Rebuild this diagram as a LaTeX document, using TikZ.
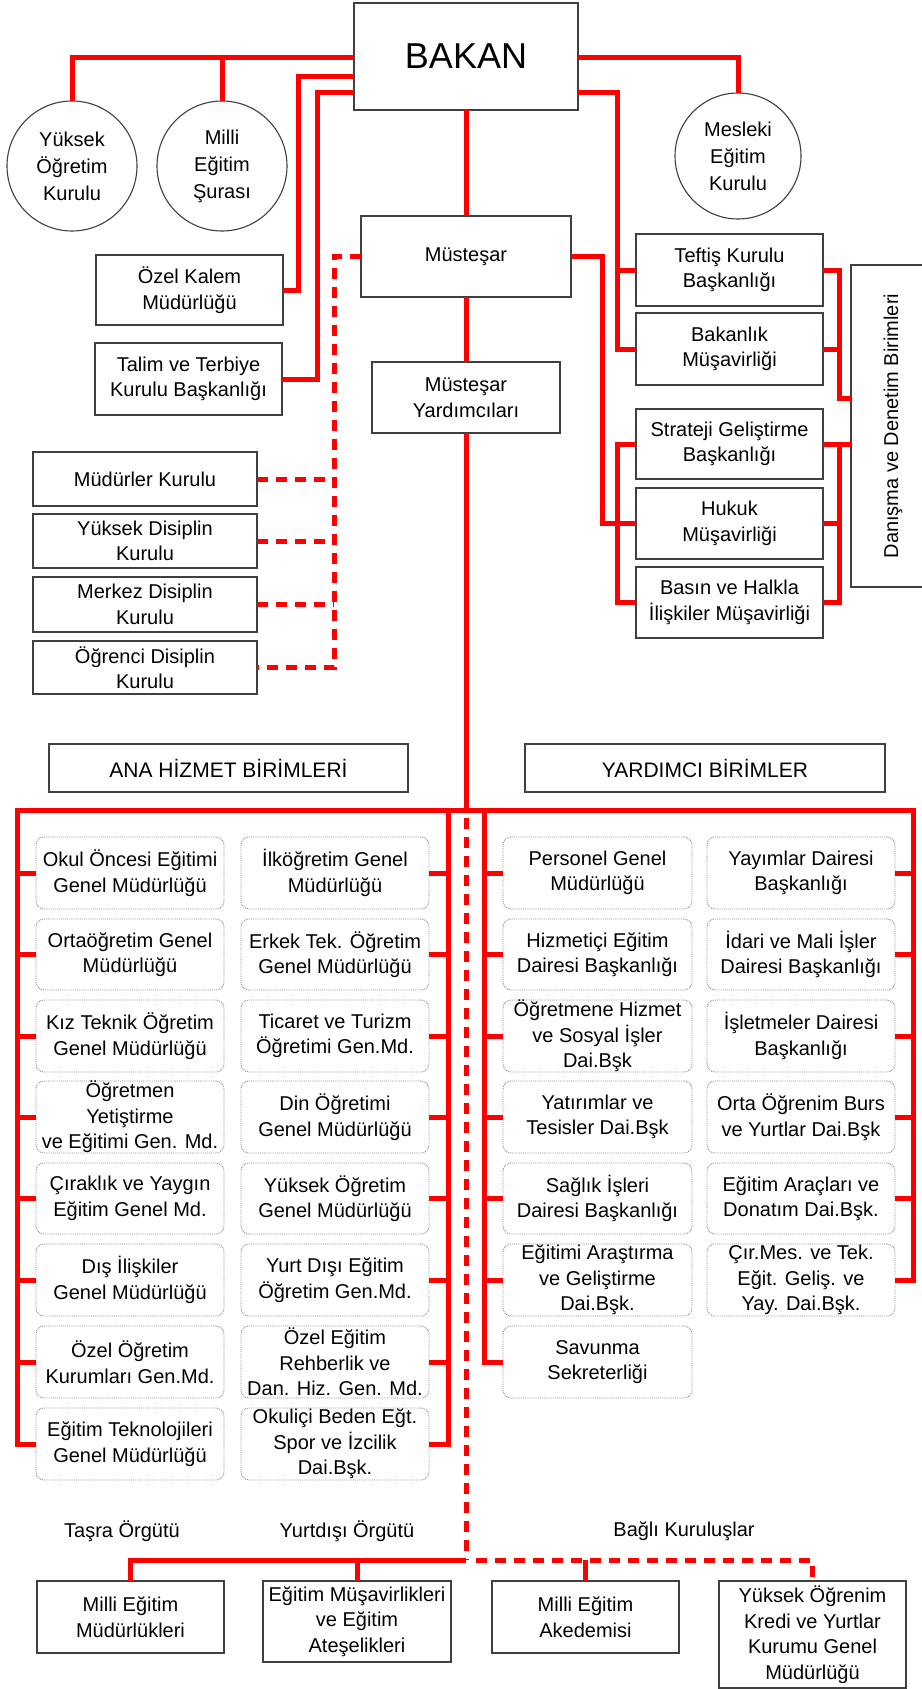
\documentclass[tikz,border=0pt]{standalone}
\usepackage{fontspec}
\setmainfont{Liberation Sans}
\usetikzlibrary{calc}
\tikzset{
  redl/.style={draw=red, line width=5pt},
  redd/.style={draw=red, line width=5pt, dash pattern=on 11pt off 8pt},
  sqbox/.style={draw=black!75, line width=1.1pt, fill=white, align=center, inner sep=0pt, outer sep=0pt, font=\fontsize{20}{25.5}\selectfont},
  rbox/.style={draw=black!45, densely dotted, line width=0.9pt, rounded corners=8pt, fill=white, align=center, inner sep=0pt, outer sep=0pt, font=\fontsize{20}{25.5}\selectfont},
  circ/.style={draw=black!75, line width=1.1pt, circle, minimum size=130pt, align=center, inner sep=0pt, outer sep=0pt, font=\fontsize{20}{27}\selectfont},
  lbl/.style={font=\fontsize{20}{25}\selectfont, inner sep=0pt}
}
% \bx{name}{x1}{y1}{x2}{y2}{style}{text}
\newcommand\bx[7]{\node[#6, minimum width={(#4-#2)*1pt}, minimum height={(#5-#3)*1pt}] (#1) at ({(#2+#4)/2},{(#3+#5)/2}) {#7};}
\begin{document}
\begin{tikzpicture}[x=1pt,y=-1pt]
\useasboundingbox (0,0) rectangle (921,1689);
\fill[white] (0,0) rectangle (921,1689);

% ---------- top ----------
\bx{bakan}{354}{3}{578}{110}{sqbox, font=\fontsize{36}{40}\selectfont}{BAKAN}
\node[circ] (c1) at (72,166) {Yüksek\\Öğretim\\Kurulu};
\node[circ] (c2) at (222,166) {Milli\\Eğitim\\Şurası};
\node[circ, minimum size=126pt] (c3) at (738,156) {Mesleki\\Eğitim\\Kurulu};
\bx{ozel}{96}{255}{283}{325}{sqbox}{Özel Kalem\\Müdürlüğü}
\bx{talim}{95}{343}{282}{415}{sqbox}{Talim ve Terbiye\\Kurulu Başkanlığı}
\bx{must}{361}{216}{571}{297}{sqbox}{Müsteşar}
\bx{yard}{372}{362}{560}{433}{sqbox}{Müsteşar\\Yardımcıları}

\bx{teftis}{636}{234}{823}{306}{sqbox}{Teftiş Kurulu\\Başkanlığı}
\bx{bakanlik}{636}{313}{823}{385}{sqbox}{Bakanlık\\Müşavirliği}
\bx{strateji}{636}{409}{823}{479}{sqbox}{Strateji Geliştirme\\Başkanlığı}
\bx{hukuk}{636}{488}{823}{559}{sqbox}{Hukuk\\Müşavirliği}
\bx{basin}{636}{567}{823}{638}{sqbox}{Basın ve Halkla\\İlişkiler Müşavirliği}
\bx{danisma}{851}{265}{935}{587}{sqbox}{}
\node[lbl, rotate=90] (danismat) at (893,426) {Danışma ve Denetim Birimleri};

\bx{mudurler}{33}{452}{257}{506}{sqbox}{Müdürler Kurulu}
\bx{yuksekd}{33}{514}{257}{568}{sqbox}{Yüksek Disiplin\\Kurulu}
\bx{merkez}{33}{577}{257}{632}{sqbox}{Merkez Disiplin\\Kurulu}
\bx{ogrenci}{33}{641}{257}{694}{sqbox}{Öğrenci Disiplin\\Kurulu}

\bx{anah}{49}{744}{408}{792}{sqbox, font=\fontsize{21}{25}\selectfont}{ANA HİZMET BİRİMLERİ}
\bx{yardh}{525}{744}{885}{792}{sqbox, font=\fontsize{21}{25}\selectfont}{YARDIMCI BİRİMLER}

% top connectors
\draw[redl] (bakan.west |- 0,57) -| (c1.north);
\draw[redl] (c2.north) -- (c2.north |- 0,57);
\draw[redl] (bakan.west |- 0,76) -| ($(ozel.east)+(15,0)$) -- (ozel.east);
\draw[redl] (bakan.west |- 0,92) -| ($(talim.east)+(35,0)$) -- (talim.east);
\draw[redl] (bakan.east |- 0,57) -| (c3.north);
\draw[redl] (bakan.east |- 0,92) -| ($(bakanlik.west)+(-19,0)$) -- (bakanlik.west);
\draw[redl] (teftis.west) -- ++(-19,0);
\draw[redl] (bakan.south) -- (must.north);
\draw[redl] (must.south) -- (yard.north);
\coordinate (hub) at (466,810);
\draw[redl] (yard.south) -- (hub);

% Musteşar dashed
\draw[redd] (must.west) -| ($(ogrenci.east)+(77,0)$) -- (ogrenci.east);
\draw[redd] (mudurler.east) -- ++(77,0);
\draw[redd] (yuksekd.east) -- ++(77,0);
\draw[redd] (merkez.east) -- ++(77,0);

% Musteşar right
\draw[redl] (must.east) -| ($(hukuk.west)+(-34,0)$) -- (hukuk.west);
\draw[redl] (strateji.west) -- ++(-19,0) |- (basin.west);

% right to Danışma
\draw[redl] (teftis.east) -- ++(16,0) |- (danisma.west |- 0,398);
\draw[redl] (bakanlik.east) -- ++(16,0);
\draw[redl] (strateji.east) -- (danisma.west |- strateji.east);
\draw[redl] (basin.east) -- ++(16,0) -- ($(strateji.east)+(16,0)$);
\draw[redl] (hukuk.east) -- ++(16,0);

% ---------- main units ----------
\bx{a1}{36}{837}{224}{909}{rbox}{Okul Öncesi Eğitimi\\Genel Müdürlüğü}
\bx{a2}{36}{919}{224}{990}{rbox}{Ortaöğretim Genel\\Müdürlüğü}
\bx{a3}{36}{1000}{224}{1072}{rbox}{Kız Teknik Öğretim\\Genel Müdürlüğü}
\bx{a4}{36}{1081}{224}{1153}{rbox}{Öğretmen\\Yetiştirme\\ve Eğitimi Gen. Md.}
\bx{a5}{36}{1163}{224}{1234}{rbox}{Çıraklık ve Yaygın\\Eğitim Genel Md.}
\bx{a6}{36}{1244}{224}{1316}{rbox}{Dış İlişkiler\\Genel Müdürlüğü}
\bx{a7}{36}{1326}{224}{1398}{rbox}{Özel Öğretim\\Kurumları Gen.Md.}
\bx{a8}{36}{1408}{224}{1480}{rbox}{Eğitim Teknolojileri\\Genel Müdürlüğü}

\bx{b1}{241}{837}{429}{909}{rbox}{İlköğretim Genel\\Müdürlüğü}
\bx{b2}{241}{919}{429}{990}{rbox}{Erkek Tek. Öğretim\\Genel Müdürlüğü}
\bx{b3}{241}{1000}{429}{1072}{rbox}{Ticaret ve Turizm\\Öğretimi Gen.Md.}
\bx{b4}{241}{1081}{429}{1153}{rbox}{Din Öğretimi\\Genel Müdürlüğü}
\bx{b5}{241}{1163}{429}{1234}{rbox}{Yüksek Öğretim\\Genel Müdürlüğü}
\bx{b6}{241}{1244}{429}{1316}{rbox}{Yurt Dışı Eğitim\\Öğretim Gen.Md.}
\bx{b7}{241}{1326}{429}{1398}{rbox}{Özel Eğitim\\Rehberlik ve\\Dan. Hiz. Gen. Md.}
\bx{b8}{241}{1408}{429}{1480}{rbox}{Okuliçi Beden Eğt.\\Spor ve İzcilik\\Dai.Bşk.}

\bx{y1}{503}{837}{692}{909}{rbox}{Personel Genel\\Müdürlüğü}
\bx{y2}{503}{919}{692}{990}{rbox}{Hizmetiçi Eğitim\\Dairesi Başkanlığı}
\bx{y3}{503}{1000}{692}{1072}{rbox}{Öğretmene Hizmet\\ve Sosyal İşler\\Dai.Bşk}
\bx{y4}{503}{1081}{692}{1153}{rbox}{Yatırımlar ve\\Tesisler Dai.Bşk}
\bx{y5}{503}{1163}{692}{1234}{rbox}{Sağlık İşleri\\Dairesi Başkanlığı}
\bx{y6}{503}{1244}{692}{1316}{rbox}{Eğitimi Araştırma\\ve Geliştirme\\Dai.Bşk.}
\bx{y7}{503}{1326}{692}{1398}{rbox}{Savunma\\Sekreterliği}

\bx{z1}{707}{837}{895}{909}{rbox}{Yayımlar Dairesi\\Başkanlığı}
\bx{z2}{707}{919}{895}{990}{rbox}{İdari ve Mali İşler\\Dairesi Başkanlığı}
\bx{z3}{707}{1000}{895}{1072}{rbox}{İşletmeler Dairesi\\Başkanlığı}
\bx{z4}{707}{1081}{895}{1153}{rbox}{Orta Öğrenim Burs\\ve Yurtlar Dai.Bşk}
\bx{z5}{707}{1163}{895}{1234}{rbox}{Eğitim Araçları ve\\Donatım Dai.Bşk.}
\bx{z6}{707}{1244}{895}{1316}{rbox}{Çır.Mes. ve Tek.\\Eğit. Geliş. ve\\Yay. Dai.Bşk.}

% buses
\coordinate (busL) at (17,810);
\coordinate (busA) at (448,810);
\coordinate (busY) at (484,810);
\coordinate (busR) at (913,810);
\draw[redl, line cap=rect] (busL) -- (busR);
\draw[redl] (busL) |- (a8.west);
\draw[redl] (busA) |- (b8.east);
\draw[redl] (busY) |- (y7.west);
\draw[redl] (busR) |- (z6.east);
\foreach \i in {1,...,7}{\draw[redl] (a\i.west) -- (a\i.west -| busL);}
\foreach \i in {1,...,7}{\draw[redl] (b\i.east) -- (b\i.east -| busA);}
\foreach \i in {1,...,6}{\draw[redl] (y\i.west) -- (y\i.west -| busY);}
\foreach \i in {1,...,5}{\draw[redl] (z\i.east) -- (z\i.east -| busR);}

% ---------- bottom ----------
\node[lbl] (tasra) at (122,1531) {Taşra Örgütü};
\node[lbl] (yurtdisi) at (347,1531) {Yurtdışı Örgütü};
\node[lbl] (bagli) at (684,1531) {Bağlı Kuruluşlar};

\bx{m1}{37}{1581}{224}{1653}{sqbox}{Milli Eğitim\\Müdürlükleri}
\bx{m2}{263}{1581}{451}{1662}{sqbox}{Eğitim Müşavirlikleri\\ve Eğitim\\Ateşelikleri}
\bx{m3}{492}{1581}{679}{1653}{sqbox}{Milli Eğitim\\Akedemisi}
\bx{m4}{719}{1581}{906}{1688}{sqbox}{Yüksek Öğrenim\\Kredi ve Yurtlar\\Kurumu Genel\\Müdürlüğü}

\coordinate (lowhub) at (466,1560);
\draw[redd] ($(hub)+(0,8)$) -- (lowhub);
\draw[redl] (lowhub) -| (m1.north);
\draw[redl] (m2.north) -- (m2.north |- lowhub);
\draw[redd] ($(lowhub)+(10,0)$) -| (m4.north);
\draw[redl] (m3.north) -- (m3.north |- lowhub);
\end{tikzpicture}
\end{document}
